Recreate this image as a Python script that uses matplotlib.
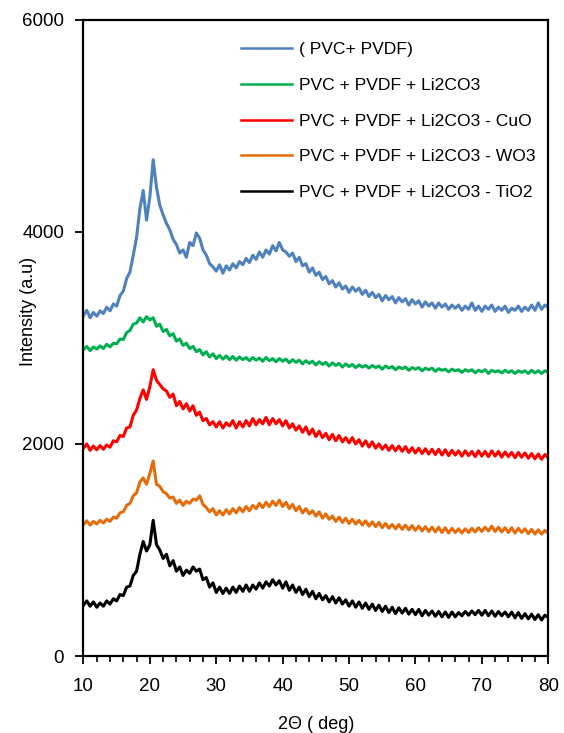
import numpy as np
import matplotlib
matplotlib.use('Agg')
from matplotlib import pyplot as plt
from matplotlib.ticker import MultipleLocator

plt.rcParams['font.family'] = ['Liberation Sans', 'DejaVu Sans']

# 2-theta grid, read every 0.5 deg
two_theta = np.arange(10, 80.25, 0.5)

pvc_pvdf = [
    3210, 3260, 3190, 3240, 3205, 3255, 3230, 3290, 3255, 3320,
    3300, 3400, 3440, 3560, 3620, 3780, 3950, 4220, 4390, 4110,
    4330, 4680, 4420, 4250, 4160, 4080, 4020, 3930, 3880, 3800,
    3830, 3760, 3900, 3870, 3990, 3940, 3830, 3780, 3700, 3670,
    3630, 3690, 3610, 3680, 3640, 3700, 3660, 3720, 3690, 3750,
    3710, 3780, 3740, 3810, 3760, 3830, 3790, 3870, 3820, 3900,
    3830, 3810, 3770, 3800, 3720, 3760, 3680, 3700, 3620, 3660,
    3590, 3620, 3550, 3580, 3510, 3540, 3480, 3520, 3460, 3490,
    3430, 3480, 3440, 3470, 3410, 3450, 3390, 3430, 3380, 3410,
    3350, 3400, 3360, 3390, 3330, 3380, 3340, 3370, 3310, 3360,
    3320, 3350, 3290, 3340, 3300, 3330, 3280, 3330, 3290, 3320,
    3270, 3310, 3280, 3310, 3260, 3300, 3270, 3330, 3260, 3300,
    3250, 3300, 3270, 3310, 3250, 3290, 3260, 3300, 3240, 3280,
    3260, 3300, 3250, 3290, 3260, 3310, 3260, 3330, 3270, 3310,
    3290]

li2co3 = [
    2890, 2920, 2880, 2915, 2895, 2925, 2900, 2940, 2915, 2950,
    2945, 2990, 2985, 3050, 3070, 3130, 3140, 3190, 3150, 3200,
    3170, 3190, 3110, 3130, 3060, 3080, 3020, 3040, 2970, 2990,
    2930, 2950, 2900, 2920, 2870, 2890, 2840, 2870, 2820, 2850,
    2805, 2835, 2800, 2830, 2795, 2825, 2790, 2820, 2795, 2815,
    2785, 2815, 2790, 2810, 2780, 2815, 2785, 2805, 2775, 2805,
    2780, 2800, 2765, 2795, 2770, 2790, 2755, 2785, 2760, 2780,
    2745, 2775, 2750, 2770, 2735, 2765, 2740, 2760, 2725, 2755,
    2730, 2750, 2720, 2745, 2725, 2740, 2715, 2740, 2720, 2735,
    2705, 2735, 2715, 2730, 2700, 2725, 2710, 2725, 2695, 2720,
    2705, 2720, 2690, 2715, 2700, 2715, 2685, 2710, 2695, 2705,
    2680, 2705, 2690, 2700, 2675, 2700, 2685, 2700, 2670, 2695,
    2680, 2700, 2665, 2695, 2680, 2690, 2670, 2695, 2675, 2690,
    2665, 2690, 2675, 2690, 2665, 2695, 2670, 2690, 2665, 2690,
    2680]

li2co3_cuo = [
    1960, 2000, 1940, 1980, 1945, 1985, 1950, 1990, 1970, 2030,
    2020, 2080, 2070, 2150, 2160, 2270, 2320, 2430, 2510, 2420,
    2540, 2700, 2600, 2560, 2520, 2500, 2440, 2470, 2360, 2400,
    2330, 2380, 2310, 2360, 2270, 2300, 2220, 2240, 2180, 2210,
    2160, 2210, 2150, 2200, 2170, 2220, 2150, 2210, 2160, 2220,
    2170, 2240, 2180, 2230, 2190, 2250, 2180, 2240, 2190, 2230,
    2170, 2220, 2150, 2190, 2130, 2170, 2110, 2160, 2090, 2140,
    2070, 2120, 2060, 2100, 2040, 2090, 2030, 2080, 2020, 2060,
    2010, 2060, 2000, 2040, 1980, 2030, 1970, 2020, 1960, 2000,
    1950, 1990, 1940, 1985, 1935, 1980, 1930, 1975, 1920, 1965,
    1915, 1960, 1910, 1955, 1905, 1950, 1900, 1950, 1895, 1945,
    1890, 1940, 1895, 1935, 1885, 1935, 1890, 1930, 1880, 1935,
    1885, 1930, 1880, 1935, 1885, 1930, 1875, 1925, 1880, 1920,
    1870, 1920, 1875, 1915, 1865, 1910, 1860, 1905, 1855, 1900,
    1870]

li2co3_wo3 = [
    1240, 1275, 1235, 1270, 1245, 1280, 1255, 1290, 1270, 1310,
    1300, 1350, 1360, 1420, 1440, 1510, 1540, 1640, 1680, 1620,
    1720, 1840, 1620, 1600, 1550, 1530, 1490, 1500, 1440, 1470,
    1420, 1460, 1440, 1480, 1470, 1510, 1430, 1400, 1360, 1390,
    1330, 1370, 1330, 1380, 1340, 1390, 1350, 1400, 1360, 1410,
    1370, 1420, 1390, 1440, 1400, 1450, 1410, 1460, 1420, 1470,
    1410, 1450, 1390, 1430, 1370, 1410, 1350, 1390, 1340, 1370,
    1320, 1360, 1300, 1340, 1290, 1320, 1270, 1310, 1260, 1300,
    1250, 1290, 1245, 1280, 1235, 1275, 1225, 1265, 1220, 1260,
    1210, 1250, 1205, 1240, 1200, 1240, 1195, 1235, 1190, 1230,
    1185, 1225, 1180, 1220, 1175, 1215, 1170, 1215, 1165, 1210,
    1160, 1205, 1165, 1200, 1160, 1200, 1165, 1205, 1170, 1210,
    1175, 1215, 1180, 1225, 1175, 1215, 1170, 1210, 1165, 1210,
    1160, 1205, 1165, 1200, 1155, 1195, 1150, 1190, 1150, 1185,
    1160]

li2co3_tio2 = [
    480, 520, 470, 510, 460, 500, 470, 520, 490, 540,
    520, 580, 570, 650, 660, 760, 800, 960, 1080, 990,
    1050, 1280, 1050, 1000, 920, 960, 850, 900, 800, 840,
    760, 810, 780, 840, 800, 820, 720, 740, 650, 690,
    600, 650, 590, 640, 590, 650, 600, 660, 610, 670,
    610, 670, 630, 690, 640, 700, 660, 720, 670, 710,
    640, 700, 620, 670, 600, 650, 580, 630, 560, 610,
    540, 590, 530, 570, 510, 560, 500, 550, 490, 530,
    470, 520, 460, 510, 450, 500, 440, 490, 430, 480,
    420, 470, 410, 460, 400, 455, 405, 450, 395, 440,
    390, 440, 380, 430, 385, 425, 375, 420, 370, 415,
    365, 415, 370, 410, 380, 420, 385, 425, 390, 430,
    385, 430, 380, 425, 375, 420, 380, 415, 370, 415,
    360, 410, 355, 400, 350, 395, 345, 390, 340, 385,
    365]

labels = ['( PVC+ PVDF)',
          'PVC + PVDF + Li2CO3',
          'PVC + PVDF + Li2CO3 - CuO',
          'PVC + PVDF + Li2CO3 - WO3',
          'PVC + PVDF + Li2CO3 - TiO2']
colors = ['#4F81BD', '#00B050', '#FF0000', '#E46C0A', '#000000']
series = [pvc_pvdf, li2co3, li2co3_cuo, li2co3_wo3, li2co3_tio2]

fig = plt.figure(figsize=(5.64, 7.33), dpi=100)
ax = fig.add_axes([0.148, 0.105, 0.824, 0.868])

for y, c, lab in zip(series, colors, labels):
    ax.plot(two_theta, y, color=c, lw=2.2, label=lab)

ax.set_xlim(10, 80)
ax.set_ylim(0, 6000)
ax.xaxis.set_major_locator(MultipleLocator(10))
ax.xaxis.set_minor_locator(MultipleLocator(2))
ax.yaxis.set_major_locator(MultipleLocator(2000))
ax.tick_params(axis='both', which='major', direction='out', length=6, width=1.3,
               labelsize=13.5)
ax.tick_params(axis='x', which='major', pad=10)
ax.tick_params(axis='y', which='major', pad=8)
ax.tick_params(axis='x', which='minor', direction='out', length=4, width=1.2)
for s in ax.spines.values():
    s.set_linewidth(1.6)

ax.set_xlabel('2\u0398 ( deg)', fontsize=13, labelpad=15)
ax.set_ylabel('Intensity (a.u)', fontsize=13)
ax.yaxis.set_label_coords(-0.10, 0.541)

leg = ax.legend(loc='upper left', bbox_to_anchor=(0.34, 0.965), frameon=False,
                fontsize=12.6, handlelength=2.9, handletextpad=0.4,
                labelspacing=1.17, borderpad=0, borderaxespad=0)
for line in leg.get_lines():
    line.set_linewidth(1.8)

fig.savefig('out.png', dpi=100)
